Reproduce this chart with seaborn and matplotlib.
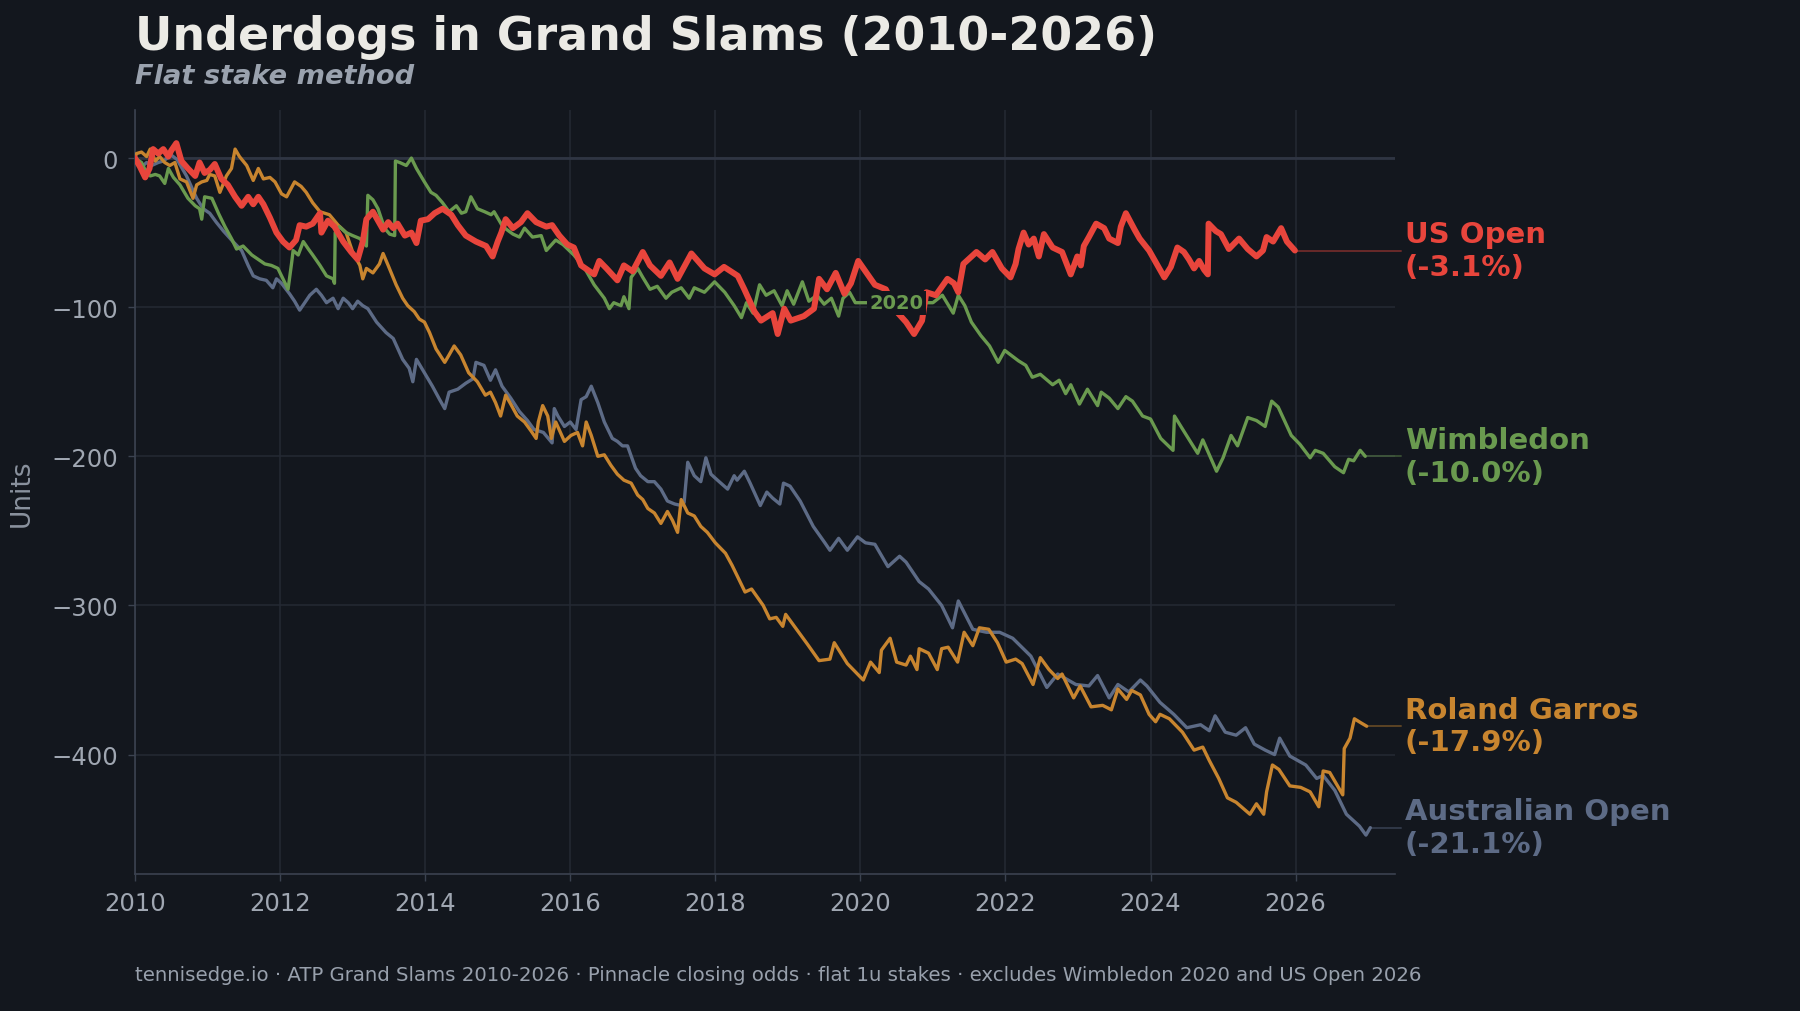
import matplotlib
matplotlib.use("Agg")
import matplotlib.pyplot as plt
import seaborn as sns
import pandas as pd

# ---------------- data ----------------
us_x = [2010.0, 2010.07, 2010.14, 2010.2, 2010.25, 2010.32, 2010.39, 2010.46, 2010.5, 2010.57, 2010.64, 2010.73,
        2010.83, 2010.89, 2010.96, 2011.03, 2011.1, 2011.19, 2011.28, 2011.38, 2011.47, 2011.56, 2011.63, 2011.7,
        2011.77, 2011.86, 2011.95, 2012.04, 2012.13, 2012.22, 2012.27, 2012.36, 2012.45, 2012.55, 2012.57, 2012.66,
        2012.75, 2012.87, 2012.98, 2013.07, 2013.14, 2013.19, 2013.28, 2013.35, 2013.42, 2013.49, 2013.56, 2013.62,
        2013.72, 2013.81, 2013.88, 2013.94, 2014.04, 2014.13, 2014.24, 2014.36, 2014.45, 2014.56, 2014.7, 2014.84,
        2014.93, 2015.0, 2015.05, 2015.11, 2015.21, 2015.32, 2015.41, 2015.53, 2015.67, 2015.75, 2015.85, 2015.96,
        2016.05, 2016.15, 2016.33, 2016.4, 2016.5, 2016.65, 2016.74, 2016.86, 2017.0, 2017.1, 2017.25, 2017.37,
        2017.48, 2017.67, 2017.85, 2017.99, 2018.12, 2018.31, 2018.4, 2018.54, 2018.63, 2018.79, 2018.86, 2018.95,
        2019.04, 2019.22, 2019.36, 2019.43, 2019.54, 2019.66, 2019.78, 2019.87, 2019.97, 2020.1, 2020.2, 2020.35,
        2020.5, 2020.63, 2020.74, 2020.85, 2020.91, 2021.04, 2021.2, 2021.29, 2021.35, 2021.42, 2021.6, 2021.72,
        2021.82, 2021.95, 2022.07, 2022.14, 2022.18, 2022.25, 2022.32, 2022.39, 2022.46, 2022.53, 2022.65, 2022.78,
        2022.9, 2022.99, 2023.04, 2023.08, 2023.15, 2023.25, 2023.36, 2023.43, 2023.55, 2023.59, 2023.66, 2023.78,
        2023.85, 2023.98, 2024.05, 2024.19, 2024.28, 2024.37, 2024.46, 2024.53, 2024.6, 2024.67, 2024.74, 2024.79,
        2024.8, 2024.9, 2024.97, 2025.08, 2025.22, 2025.34, 2025.46, 2025.55, 2025.6, 2025.69, 2025.8, 2025.88,
        2025.99]
us_y = [0, -6, -13, -7, 6, 3, 6, 1, 5, 10, -2, -7,
        -12, -3, -10, -8, -4, -14, -18, -26, -32, -26, -31, -26,
        -31, -40, -50, -56, -60, -55, -45, -46, -44, -37, -50, -42,
        -46, -56, -63, -68, -56, -41, -36, -42, -48, -43, -47, -44,
        -52, -50, -57, -42, -41, -37, -34, -38, -45, -52, -56, -59,
        -66, -56, -50, -41, -47, -43, -37, -43, -46, -45, -52, -58,
        -60, -72, -78, -69, -74, -82, -72, -76, -63, -72, -79, -70,
        -81, -64, -74, -78, -73, -79, -88, -103, -109, -104, -118, -101,
        -109, -106, -101, -81, -88, -77, -91, -84, -69, -78, -85, -88,
        -103, -110, -118, -109, -90, -92, -81, -84, -90, -71, -63, -68,
        -63, -74, -80, -71, -61, -50, -58, -54, -66, -51, -60, -63,
        -78, -66, -72, -59, -53, -44, -47, -54, -57, -46, -37, -48,
        -54, -62, -68, -80, -73, -60, -63, -68, -74, -69, -75, -78,
        -44, -49, -51, -61, -54, -61, -66, -62, -53, -56, -47, -56,
        -62]

wim_x = [2010.0, 2010.09, 2010.14, 2010.21, 2010.28, 2010.34, 2010.41, 2010.46, 2010.53, 2010.62, 2010.73, 2010.83,
         2010.89, 2010.92, 2010.96, 2011.06, 2011.15, 2011.24, 2011.33, 2011.4, 2011.49, 2011.61, 2011.7, 2011.79,
         2011.88, 2011.97, 2012.04, 2012.11, 2012.16, 2012.18, 2012.25, 2012.32, 2012.39, 2012.45, 2012.55, 2012.64,
         2012.73, 2012.75, 2012.76, 2012.82, 2012.91, 2013.0, 2013.1, 2013.19, 2013.21, 2013.28, 2013.35, 2013.44,
         2013.51, 2013.58, 2013.59, 2013.65, 2013.74, 2013.81, 2013.88, 2013.99, 2014.08, 2014.15, 2014.24, 2014.33,
         2014.43, 2014.5, 2014.56, 2014.63, 2014.72, 2014.82, 2014.91, 2014.95, 2015.07, 2015.21, 2015.3, 2015.37,
         2015.48, 2015.6, 2015.67, 2015.8, 2015.9, 2016.05, 2016.2, 2016.33, 2016.47, 2016.54, 2016.6, 2016.7,
         2016.74, 2016.81, 2016.84, 2016.93, 2017.0, 2017.1, 2017.2, 2017.32, 2017.4, 2017.53, 2017.64, 2017.71,
         2017.85, 2017.99, 2018.13, 2018.26, 2018.36, 2018.43, 2018.52, 2018.61, 2018.7, 2018.81, 2018.92, 2018.99,
         2019.08, 2019.2, 2019.29, 2019.4, 2019.5, 2019.6, 2019.7, 2019.76, 2019.85, 2019.93, 2020.05, 2021.0,
         2021.13, 2021.28, 2021.35, 2021.44, 2021.53, 2021.66, 2021.78, 2021.9, 2021.99, 2022.18, 2022.28, 2022.37,
         2022.48, 2022.65, 2022.74, 2022.83, 2022.9, 2023.02, 2023.13, 2023.27, 2023.32, 2023.43, 2023.55, 2023.66,
         2023.75, 2023.89, 2024.0, 2024.14, 2024.31, 2024.33, 2024.47, 2024.65, 2024.72, 2024.91, 2025.0, 2025.11,
         2025.2, 2025.34, 2025.46, 2025.58, 2025.67, 2025.76, 2025.94, 2026.06, 2026.2, 2026.27, 2026.38, 2026.54,
         2026.66, 2026.73, 2026.8, 2026.89, 2026.96]
wim_y = [0, -3, -8, -12, -11, -12, -17, -7, -13, -18, -27, -32,
         -34, -41, -26, -27, -37, -46, -54, -61, -59, -65, -68, -71,
         -72, -74, -81, -88, -70, -62, -65, -56, -61, -65, -72, -79,
         -81, -84, -50, -46, -50, -52, -54, -59, -25, -28, -34, -47,
         -51, -52, -2, -3, -5, 0, -7, -16, -23, -25, -30, -36,
         -32, -37, -36, -26, -34, -36, -38, -36, -46, -51, -53, -47,
         -53, -52, -62, -55, -58, -65, -74, -85, -94, -101, -97, -99,
         -93, -101, -80, -74, -80, -88, -86, -94, -90, -87, -94, -87,
         -90, -83, -90, -99, -107, -97, -104, -85, -92, -89, -99, -89,
         -98, -83, -96, -92, -98, -94, -106, -94, -90, -97, -97, -97,
         -92, -104, -92, -99, -110, -119, -126, -137, -129, -136, -139, -147,
         -145, -152, -149, -158, -152, -165, -155, -166, -157, -161, -168, -160,
         -163, -173, -175, -188, -196, -173, -184, -198, -189, -210, -201, -186,
         -193, -174, -176, -180, -163, -167, -186, -192, -201, -196, -198, -207,
         -211, -202, -203, -196, -200]

rg_x = [2010.0, 2010.02, 2010.09, 2010.16, 2010.21, 2010.28, 2010.34, 2010.41, 2010.48, 2010.55, 2010.62, 2010.71,
        2010.8, 2010.85, 2010.92, 2010.99, 2011.03, 2011.1, 2011.17, 2011.26, 2011.33, 2011.38, 2011.44, 2011.54,
        2011.63, 2011.7, 2011.77, 2011.86, 2011.93, 2012.02, 2012.09, 2012.2, 2012.29, 2012.36, 2012.45, 2012.55,
        2012.68, 2012.8, 2012.91, 2013.0, 2013.1, 2013.14, 2013.19, 2013.28, 2013.37, 2013.42, 2013.49, 2013.6,
        2013.69, 2013.76, 2013.85, 2013.92, 2013.99, 2014.06, 2014.15, 2014.27, 2014.33, 2014.4, 2014.49, 2014.6,
        2014.72, 2014.83, 2014.9, 2014.97, 2015.04, 2015.11, 2015.18, 2015.27, 2015.37, 2015.46, 2015.53, 2015.56,
        2015.62, 2015.69, 2015.74, 2015.8, 2015.92, 2016.01, 2016.1, 2016.17, 2016.22, 2016.29, 2016.38, 2016.47,
        2016.56, 2016.65, 2016.74, 2016.84, 2016.93, 2017.0, 2017.07, 2017.16, 2017.25, 2017.34, 2017.41, 2017.48,
        2017.53, 2017.62, 2017.71, 2017.8, 2017.89, 2018.0, 2018.14, 2018.23, 2018.41, 2018.5, 2018.66, 2018.75,
        2018.84, 2018.93, 2018.97, 2019.09, 2019.27, 2019.43, 2019.58, 2019.64, 2019.82, 2020.04, 2020.14, 2020.26,
        2020.29, 2020.41, 2020.5, 2020.63, 2020.69, 2020.78, 2020.81, 2020.94, 2021.06, 2021.12, 2021.21, 2021.34,
        2021.43, 2021.55, 2021.64, 2021.77, 2021.89, 2022.01, 2022.14, 2022.23, 2022.38, 2022.48, 2022.6, 2022.72,
        2022.78, 2022.94, 2023.03, 2023.18, 2023.34, 2023.46, 2023.55, 2023.67, 2023.74, 2023.86, 2023.98, 2024.07,
        2024.13, 2024.26, 2024.44, 2024.6, 2024.72, 2024.81, 2024.94, 2025.06, 2025.18, 2025.37, 2025.46, 2025.56,
        2025.6, 2025.68, 2025.77, 2025.92, 2026.07, 2026.2, 2026.32, 2026.38, 2026.47, 2026.65, 2026.67, 2026.75,
        2026.81, 2026.91, 2026.98]
rg_y = [0, 3, 4, 1, 6, -2, 1, -3, -5, -3, -14, -16,
        -27, -18, -16, -15, -11, -12, -23, -12, -7, 6, 1, -5,
        -15, -7, -14, -13, -16, -24, -26, -16, -19, -23, -30, -36,
        -38, -45, -50, -63, -72, -81, -74, -77, -71, -64, -72, -85,
        -94, -99, -103, -108, -110, -117, -128, -137, -132, -126, -132, -144,
        -150, -159, -157, -164, -173, -159, -165, -173, -177, -183, -188, -177,
        -166, -173, -188, -177, -190, -186, -184, -193, -177, -186, -200, -199,
        -206, -212, -216, -218, -226, -229, -235, -238, -245, -237, -243, -251,
        -229, -238, -240, -247, -251, -258, -265, -273, -291, -289, -300, -309,
        -308, -314, -306, -314, -326, -337, -336, -325, -339, -350, -338, -345,
        -330, -322, -338, -340, -334, -343, -329, -332, -343, -329, -328, -338,
        -318, -327, -315, -316, -325, -338, -336, -339, -353, -335, -343, -349,
        -346, -362, -354, -368, -367, -370, -356, -363, -357, -360, -373, -378,
        -373, -376, -385, -397, -395, -404, -416, -429, -432, -440, -433, -440,
        -425, -407, -410, -421, -422, -425, -435, -411, -412, -427, -396, -389,
        -376, -379, -381]

ao_x = [2010.0, 2010.09, 2010.16, 2010.23, 2010.32, 2010.39, 2010.5, 2010.58, 2010.71, 2010.85, 2010.94, 2011.03,
        2011.12, 2011.22, 2011.35, 2011.47, 2011.56, 2011.63, 2011.72, 2011.81, 2011.9, 2011.95, 2012.02, 2012.13,
        2012.2, 2012.27, 2012.34, 2012.41, 2012.5, 2012.57, 2012.64, 2012.73, 2012.8, 2012.87, 2012.94, 2013.0,
        2013.07, 2013.14, 2013.21, 2013.33, 2013.46, 2013.56, 2013.69, 2013.78, 2013.83, 2013.88, 2013.99, 2014.1,
        2014.2, 2014.27, 2014.33, 2014.45, 2014.56, 2014.66, 2014.7, 2014.81, 2014.9, 2014.97, 2015.06, 2015.18,
        2015.3, 2015.41, 2015.5, 2015.63, 2015.75, 2015.78, 2015.83, 2015.92, 2016.0, 2016.08, 2016.15, 2016.22,
        2016.29, 2016.38, 2016.47, 2016.58, 2016.65, 2016.72, 2016.79, 2016.9, 2016.97, 2017.07, 2017.16, 2017.25,
        2017.34, 2017.44, 2017.53, 2017.57, 2017.62, 2017.71, 2017.8, 2017.87, 2017.94, 2018.03, 2018.17, 2018.26,
        2018.3, 2018.4, 2018.48, 2018.62, 2018.71, 2018.79, 2018.89, 2018.94, 2019.03, 2019.17, 2019.35, 2019.51,
        2019.58, 2019.7, 2019.82, 2019.96, 2020.07, 2020.2, 2020.38, 2020.54, 2020.63, 2020.81, 2020.94, 2021.12,
        2021.27, 2021.35, 2021.55, 2021.74, 2021.92, 2022.1, 2022.35, 2022.57, 2022.72, 2022.97, 2023.15, 2023.27,
        2023.43, 2023.55, 2023.7, 2023.86, 2023.95, 2024.13, 2024.32, 2024.5, 2024.69, 2024.81, 2024.89, 2025.03,
        2025.18, 2025.31, 2025.43, 2025.58, 2025.71, 2025.78, 2025.92, 2026.14, 2026.29, 2026.38, 2026.54, 2026.7,
        2026.88, 2026.97, 2027.03]
ao_y = [0, -6, -3, -5, -3, -2, 2, -1, -12, -27, -34, -37,
        -43, -49, -56, -62, -72, -79, -81, -82, -87, -81, -84, -91,
        -96, -102, -97, -92, -88, -92, -97, -94, -101, -94, -97, -101,
        -96, -99, -101, -110, -117, -121, -135, -141, -150, -135, -144, -153,
        -162, -168, -157, -155, -151, -148, -137, -139, -149, -142, -153, -161,
        -170, -176, -182, -184, -191, -168, -173, -180, -177, -182, -162, -160,
        -153, -164, -177, -188, -190, -193, -193, -208, -213, -217, -217, -222,
        -230, -232, -233, -231, -204, -213, -217, -201, -212, -216, -222, -213,
        -216, -210, -218, -233, -224, -228, -232, -218, -220, -230, -247, -258,
        -263, -255, -263, -254, -258, -259, -274, -267, -271, -284, -289, -300,
        -315, -297, -316, -318, -318, -322, -334, -355, -346, -353, -354, -347,
        -362, -353, -358, -350, -354, -365, -373, -382, -380, -384, -374, -385,
        -387, -382, -393, -397, -400, -389, -401, -407, -416, -414, -424, -440,
        -448, -454, -449]

slams = ["US Open", "Wimbledon", "Roland Garros", "Australian Open"]
roi_labels = ["(-3.1%)", "(-10.0%)", "(-17.9%)", "(-21.1%)"]
colors = {"US Open": "#e8453c", "Wimbledon": "#6a9a4f",
          "Roland Garros": "#c8852f", "Australian Open": "#5d6b86"}

x_ticks = [2010, 2012, 2014, 2016, 2018, 2020, 2022, 2024, 2026]
y_ticks = [0, -100, -200, -300, -400]

series = {"US Open": (us_x, us_y), "Wimbledon": (wim_x, wim_y),
          "Roland Garros": (rg_x, rg_y), "Australian Open": (ao_x, ao_y)}

frames = []
for name, (xs, ys) in series.items():
    frames.append(pd.DataFrame({"year": xs, "units": ys, "slam": name}))
df = pd.concat(frames, ignore_index=True)

# ---------------- style ----------------
BG = "#13171e"
GRID = "#252a34"
SPINE = "#3b4250"
TICK_TXT = "#a0a7b2"

sns.set_theme(style="dark")
plt.rcParams.update({
    "figure.facecolor": BG, "axes.facecolor": BG, "savefig.facecolor": BG,
    "axes.edgecolor": SPINE, "text.color": TICK_TXT,
})
plt.rcParams["font.family"] = ["DejaVu Sans"]

fig = plt.figure(figsize=(18, 10.12), dpi=100)
ax = fig.add_axes([0.075, 0.1355, 0.7, 0.7545])

draw_order = ["Australian Open", "Roland Garros", "Wimbledon", "US Open"]
widths = {"US Open": 4.3, "Wimbledon": 2.4, "Roland Garros": 2.4, "Australian Open": 2.4}
for i, name in enumerate(draw_order):
    sub = df[df["slam"] == name]
    sns.lineplot(data=sub, x="year", y="units", color=colors[name], linewidth=widths[name],
                 estimator=None, sort=False, ax=ax, legend=False, zorder=3 + i)

ax.set_xlim(2010, 2027.37)
ax.set_ylim(-480, 32)
ax.set_xticks(x_ticks)
ax.set_xticklabels([str(t) for t in x_ticks])
ax.set_yticks(y_ticks)
ax.grid(True, color=GRID, linewidth=1.1)
ax.axhline(0, color="#2f3543", linewidth=2.0, zorder=2)
for s in ["top", "right"]:
    ax.spines[s].set_visible(False)
for s in ["left", "bottom"]:
    ax.spines[s].set_color(SPINE)
    ax.spines[s].set_linewidth(1.2)
ax.tick_params(axis="both", colors=SPINE, labelcolor=TICK_TXT, labelsize=17.5, length=5, width=1,
               bottom=True, left=True)
ax.tick_params(axis="x", pad=7)
ax.tick_params(axis="y", pad=7)
ax.set_xlabel("")
ax.set_ylabel("Units", fontsize=19, color="#8a929e", labelpad=12)

# end-of-line connectors and labels
for name, roi in zip(slams, roi_labels):
    xs, ys = series[name]
    ax.plot([xs[-1], 2027.45], [ys[-1], ys[-1]], color=colors[name], alpha=0.4, linewidth=1.4,
            zorder=2, clip_on=False)
    ax.annotate(f"{name}\n{roi}", xy=(1.0, ys[-1]), xycoords=("axes fraction", "data"),
                xytext=(7, 0), textcoords="offset points", ha="left", va="center",
                fontsize=21, fontweight="bold", color=colors[name], linespacing=1.2,
                annotation_clip=False)

# excluded Wimbledon 2020 marker
ax.text(2020.5, -97, "2020", ha="center", va="center", fontsize=14, fontweight="bold",
        color=colors["Wimbledon"], zorder=10,
        bbox=dict(boxstyle="square,pad=0.12", facecolor=BG, edgecolor="none"))

fig.text(0.075, 1 - 50 / 1012, "Underdogs in Grand Slams (2010-2026)", fontsize=33,
         fontweight="bold", color="#ebeae5", ha="left", va="baseline")
fig.text(0.075, 1 - 84 / 1012, "Flat stake method", fontsize=19.6, fontweight="bold",
         fontstyle="italic", color="#9aa2ae", ha="left", va="baseline")
fig.text(0.075, 1 - 976 / 1012,
         "tennisedge.io \u00b7 ATP Grand Slams 2010-2026 \u00b7 Pinnacle closing odds \u00b7 flat 1u stakes \u00b7 excludes Wimbledon 2020 and US Open 2026",
         fontsize=14.2, color="#98a0ac", ha="left", va="center")

fig.savefig("out.png", dpi=100, facecolor=BG)
